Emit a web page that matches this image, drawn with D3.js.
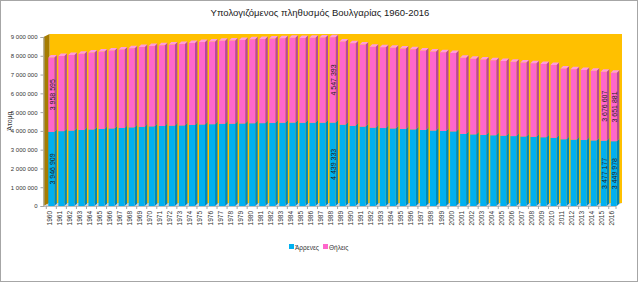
<!DOCTYPE html>
<html><head><meta charset="utf-8">
<script src="https://cdn.jsdelivr.net/npm/d3@7"></script>
<style>body{margin:0;background:#fff}svg{display:block;font-family:"Liberation Sans",Arial,sans-serif}</style>
</head><body><svg id="c" width="639" height="282"></svg>
<script>
const years = d3.range(1960, 2017).map(String);
const male = [3946909,3986000,4015000,4046000,4076000,4104000,4131000,4156000,4188000,4217000,
4241000,4260000,4278000,4290000,4318000,4342000,4356000,4376000,4380000,4394000,
4407000,4413000,4424000,4432000,4440000,4430000,4431000,4434000,4439333,4329000,
4269000,4228000,4170000,4152000,4131000,4106000,4080000,4048000,4019000,3996000,
3973000,3839000,3814000,3789000,3767000,3744000,3723000,3702000,3684000,3661000,
3630000,3554000,3533000,3514000,3492000,3477177,3449978];
const female = [3958595,3999000,4031000,4064000,4095000,4125000,4154000,4181000,4215000,4247000,
4274000,4296000,4317000,4331000,4361000,4388000,4405000,4428000,4434000,4452000,
4470000,4478000,4493000,4508000,4521000,4519000,4527000,4537000,4547393,4438000,
4400000,4367000,4315000,4308000,4296000,4279000,4261000,4235000,4211000,4195000,
4176000,4052000,4032000,4012000,3994000,3975000,3956000,3938000,3923000,3903000,
3875000,3773000,3752000,3732000,3710000,3676607,3651881];
const labelYears = ["1960","1988","2015","2016"];
const yTicks = d3.range(0, 9000001, 1000000);
const seriesNames = ["Άρρενες","Θήλεις"];
const title = "Υπολογιζόμενος πληθυσμός Βουλγαρίας 1960-2016";
const yTitle = "Άτομα";

const svg = d3.select("#c");
const fmt = v => d3.format(",")(v).replace(/,/g, " ");
const blue = "#00B0F0", blueSide = "#0088BA", blueTop = "#5FD0F8";
const pink = "#FF66CC", pinkSide = "#B8479A", pinkTop = "#FF9BDD";

svg.append("rect").attr("x",0.5).attr("y",0.5).attr("width",637).attr("height",281)
  .attr("fill","#fff").attr("stroke","#a6a6a6");

const x = d3.scaleBand().domain(years).range([46.3, 618.8]).paddingInner(0.4).paddingOuter(0.2);
const y = d3.scaleLinear().domain([0, 9000000]).range([206, 37]);
const wd = 6, wdy = -3, bd = 2.5, bdy = -2.5;
const x0 = 43.5, x1 = 616;

// walls
svg.append("rect").attr("x", x0+wd).attr("y", y(9000000)+wdy).attr("width", x1+wd-(x0+wd))
  .attr("height", y(0)-y(9000000)).attr("fill", "#FFC000");
svg.append("polygon").attr("points", [[x0,y(9000000)],[x0+wd,y(9000000)+wdy],[x0+wd,y(0)+wdy],[x0,y(0)]].join(" "))
  .attr("fill", "#A67C00");
svg.append("polygon").attr("points", [[x0,y(0)],[x0+wd,y(0)+wdy],[x1+wd,y(0)+wdy],[x1,y(0)]].join(" "))
  .attr("fill", "#d0d0d0");
svg.append("line").attr("x1",x0).attr("x2",x1).attr("y1",y(0)+0.5).attr("y2",y(0)+0.5).attr("stroke","#bfbfbf");

// bars
const data = years.map((yr,i)=>({yr, m: male[i], f: female[i]}));
const g = svg.append("g");
data.forEach(d => {
  const bx = x(d.yr), w = x.bandwidth();
  const segs = [
    {v0: 0, v1: d.m, c: blue, s: blueSide, t: blueTop},
    {v0: d.m, v1: d.m + d.f, c: pink, s: pinkSide, t: pinkTop}
  ];
  segs.forEach((s, k) => {
    const yt = y(s.v1), yb = y(s.v0);
    g.append("polygon").attr("points", [[bx+w,yb],[bx+w+bd,yb+bdy],[bx+w+bd,yt+bdy],[bx+w,yt]].join(" ")).attr("fill", s.s);
    g.append("rect").attr("x", bx).attr("y", yt).attr("width", w).attr("height", yb-yt).attr("fill", s.c);
    if (k === 1) {
      g.append("polygon").attr("points", [[bx,yt],[bx+bd,yt+bdy],[bx+w+bd,yt+bdy],[bx+w,yt]].join(" ")).attr("fill", s.t);
    }
  });
});

// data labels
data.filter(d => labelYears.includes(d.yr)).forEach(d => {
  const cx = x(d.yr) + x.bandwidth()/2 + 1;
  [[0, d.m],[d.m, d.m + d.f]].forEach(([a,b]) => {
    const cy = (y(a) + y(b)) / 2;
    svg.append("text").attr("transform", `translate(${cx},${cy}) rotate(-90)`)
      .attr("text-anchor","middle").attr("dominant-baseline","central")
      .attr("font-size", 7).attr("fill", "#1a1a1a").text(fmt(b - a));
  });
});

// y axis
const ya = svg.append("g").attr("transform", `translate(${x0},0)`)
  .call(d3.axisLeft(y).tickValues(yTicks).tickSize(3).tickFormat(fmt));
ya.select(".domain").attr("stroke","#a6a6a6");
ya.selectAll(".tick line").attr("stroke","#a6a6a6");
ya.selectAll("text").attr("font-size", 6).attr("fill","#333").attr("font-family","'Liberation Sans',Arial,sans-serif");

// x ticks and labels
const step = x.step();
years.forEach((yr, i) => {
  const b = x(yr) - (step - x.bandwidth())/2;
  svg.append("line").attr("x1", b).attr("x2", b).attr("y1", y(0)).attr("y2", y(0)+3).attr("stroke","#a6a6a6");
});
svg.append("line").attr("x1", x1).attr("x2", x1).attr("y1", y(0)).attr("y2", y(0)+3).attr("stroke","#a6a6a6");
years.forEach(yr => {
  const cx = x(yr) + x.bandwidth()/2 - 2;
  svg.append("text").attr("transform", `translate(${cx},${y(0)+5}) rotate(-90)`)
    .attr("text-anchor","end").attr("dominant-baseline","central")
    .attr("font-size", 6.5).attr("fill","#333").text(yr);
});

// title
svg.append("text").attr("x", 320).attr("y", 16).attr("text-anchor","middle")
  .attr("font-size", 9.5).attr("fill","#1a1a1a").text(title);
// y title
const yt = svg.append("g").attr("transform", "translate(9,121)");
yt.append("text").attr("transform", "rotate(-90)").attr("x", 0).attr("y", 0)
  .attr("text-anchor","middle").attr("dominant-baseline","central")
  .attr("font-size", 7).attr("fill","#333").text(yTitle);

// legend
const lg = svg.append("g").attr("transform","translate(289,247)");
[[blue, seriesNames[0], 0],[pink, seriesNames[1], 34]].forEach(([c,t,dx]) => {
  lg.append("rect").attr("x", dx).attr("y", -3).attr("width", 5).attr("height", 5).attr("fill", c);
  lg.append("text").attr("x", dx + 6).attr("y", 0).attr("dominant-baseline","central")
    .attr("font-size", 6.5).attr("fill","#333").text(t);
});
</script></body></html>
